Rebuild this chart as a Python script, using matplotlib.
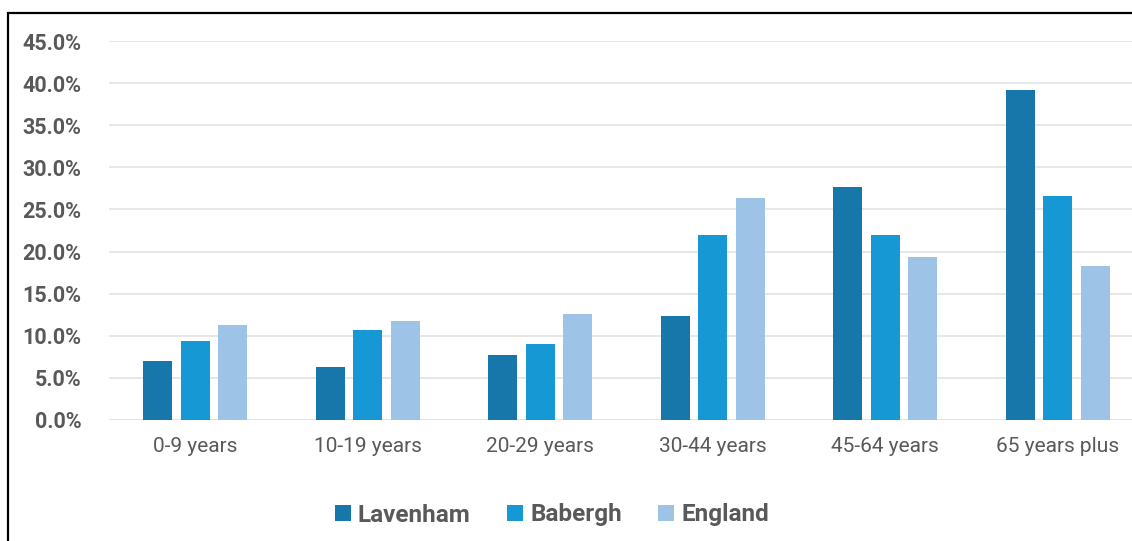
import matplotlib.pyplot as plt
from matplotlib.patches import Rectangle
import numpy as np

# Share of population by age band (%)
age_bands = ["0-9 years", "10-19 years", "20-29 years", "30-44 years",
             "45-64 years", "65 years plus"]
series_names = ["Lavenham", "Babergh", "England"]
lavenham = [7.0, 6.3, 7.7, 12.3, 27.7, 39.2]
babergh = [9.4, 10.7, 9.0, 22.0, 22.0, 26.6]
england = [11.3, 11.8, 12.6, 26.4, 19.4, 18.3]
y_ticks = [0, 5, 10, 15, 20, 25, 30, 35, 40, 45]

colors = ['#1777aa', '#1598d3', '#9dc3e6']
grey = '#595959'

plt.rcParams['font.family'] = ['Roboto', 'DejaVu Sans']

fig = plt.figure(figsize=(11.32, 5.41), dpi=100, facecolor='white')
# axes box in pixels: left 109, right 1144, baseline 420, top 41
W, H = 1132, 541
ax = fig.add_axes([109 / W, (H - 420) / H, (1144 - 109) / W, (420 - 41) / H])

x = np.arange(len(age_bands))
step = 0.218
width = 0.168
for i, (name, vals) in enumerate(zip(series_names, [lavenham, babergh, england])):
    ax.bar(x + (i - 1) * step, vals, width, color=colors[i], label=name,
           zorder=3)

ax.set_ylim(0, 45)
ax.set_xlim(-0.5, len(age_bands) - 0.5)
ax.set_yticks(y_ticks)
ax.set_yticklabels(["%.1f%%" % t for t in y_ticks], fontsize=15.5,
                   fontweight='bold', color=grey)
ax.set_xticks(x)
ax.set_xticklabels(age_bands, fontsize=15, color=grey)
ax.tick_params(axis='both', length=0)
ax.tick_params(axis='y', pad=20)
ax.tick_params(axis='x', pad=12)
ax.yaxis.grid(True, color='#e0e0e0', linewidth=1.1, zorder=0)
for side in ['top', 'right', 'left', 'bottom']:
    ax.spines[side].set_visible(False)
ax.axhline(0, color='#e0e0e0', linewidth=1.1, zorder=1)

leg = fig.legend(loc='center', bbox_to_anchor=(552 / W, 1 - 515 / H), ncol=3,
                 frameon=False, handlelength=0.65, handleheight=0.65,
                 handletextpad=0.3, columnspacing=1.5,
                 prop={'size': 17.5, 'weight': 'bold'})
for t in leg.get_texts():
    t.set_color(grey)

# black frame round the chart
fig.patches.append(Rectangle((8 / W, -0.05), 1.1, 1 - 13 / H + 0.05,
                             transform=fig.transFigure, fill=False,
                             edgecolor='black', linewidth=1.6))

fig.savefig('out.png', dpi=100, facecolor='white')
